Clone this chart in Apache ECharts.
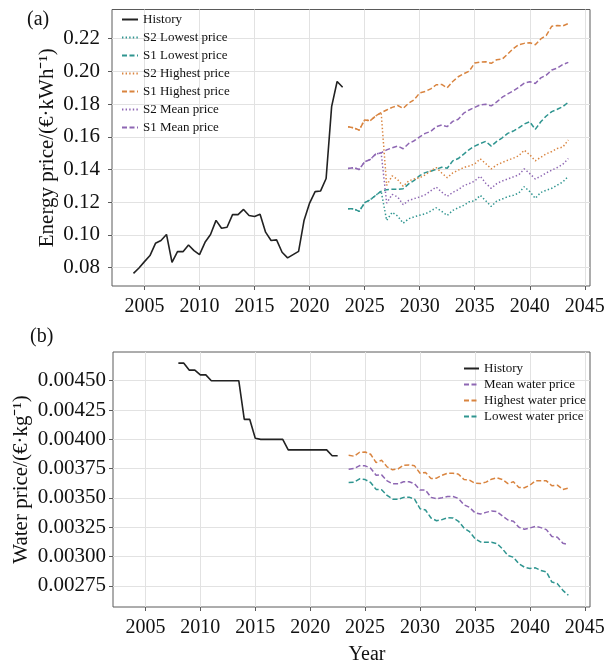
<!DOCTYPE html>
<html>
<head>
<meta charset="utf-8">
<script src="https://cdn.jsdelivr.net/npm/echarts@6/dist/echarts.min.js"></script>
<style>
  html, body { margin: 0; padding: 0; background: #fff; }
  #chart { width: 605px; height: 665px; }
</style>
</head>
<body>
<div id="chart"></div>
<script>
// ---- (a) energy price: history, half-yearly from 2004.0 ----
const energyHistStart = 2004.0;
const energyHistory = [
  0.0765, 0.0798, 0.0837, 0.0874, 0.0949, 0.0966, 0.1003, 0.0833, 0.0898, 0.0898,
  0.0939, 0.0904, 0.0880, 0.0955, 0.1003, 0.1089, 0.1041, 0.1047, 0.1124, 0.1124,
  0.1156, 0.1119, 0.1113, 0.1127, 0.1017, 0.0966, 0.0970, 0.0894, 0.0860, 0.0880,
  0.0900, 0.1090, 0.1195, 0.1265, 0.1269, 0.1345, 0.1784, 0.1938, 0.1903
];

// ---- (a) energy price scenarios, half-yearly from 2023.5 ----
const forecastStart = 2023.5;
const s2Lowest = [
  0.1160, 0.1160, 0.1144, 0.1197, 0.1215, 0.1242, 0.1267,
  0.1089, 0.1138, 0.1115, 0.1072, 0.1099, 0.1111, 0.1121, 0.1129, 0.1146, 0.1166,
  0.1144, 0.1119, 0.1150, 0.1166, 0.1181, 0.1203, 0.1209, 0.1242, 0.1209, 0.1174,
  0.1207, 0.1220, 0.1234, 0.1242, 0.1256, 0.1295, 0.1265, 0.1224, 0.1260, 0.1273,
  0.1285, 0.1305, 0.1324, 0.1359
];
const s1Lowest = [
  0.1160, 0.1160, 0.1144, 0.1197, 0.1215, 0.1242, 0.1267, 0.1277, 0.1279, 0.1279,
  0.1283, 0.1312, 0.1334, 0.1363, 0.1381, 0.1389, 0.1402, 0.1414, 0.1408, 0.1453,
  0.1467, 0.1494, 0.1522, 0.1543, 0.1559, 0.1572, 0.1543, 0.1572, 0.1594, 0.1621,
  0.1635, 0.1655, 0.1678, 0.1692, 0.1645, 0.1692, 0.1727, 0.1754, 0.1768, 0.1784,
  0.1811
];
const s2Highest = [
  0.1662, 0.1655, 0.1641, 0.1703, 0.1698, 0.1727, 0.1748,
  0.1303, 0.1361, 0.1338, 0.1297, 0.1330, 0.1342, 0.1350, 0.1367, 0.1391, 0.1412,
  0.1379, 0.1350, 0.1379, 0.1396, 0.1412, 0.1422, 0.1434, 0.1465, 0.1436, 0.1404,
  0.1428, 0.1443, 0.1457, 0.1469, 0.1484, 0.1518, 0.1490, 0.1453, 0.1475, 0.1496,
  0.1510, 0.1529, 0.1537, 0.1580
];
const s1Highest = [
  0.1662, 0.1655, 0.1641, 0.1703, 0.1698, 0.1727, 0.1748, 0.1764, 0.1780, 0.1791,
  0.1774, 0.1805, 0.1827, 0.1868, 0.1877, 0.1893, 0.1918, 0.1920, 0.1899, 0.1938,
  0.1967, 0.1985, 0.2001, 0.2051, 0.2057, 0.2059, 0.2049, 0.2071, 0.2075, 0.2106,
  0.2139, 0.2163, 0.2171, 0.2175, 0.2163, 0.2198, 0.2220, 0.2276, 0.2280, 0.2278,
  0.2292
];
const s2Mean = [
  0.1406, 0.1412, 0.1400, 0.1447, 0.1461, 0.1494, 0.1502,
  0.1195, 0.1248, 0.1232, 0.1185, 0.1211, 0.1222, 0.1232, 0.1246, 0.1269, 0.1293,
  0.1262, 0.1236, 0.1260, 0.1277, 0.1301, 0.1314, 0.1330, 0.1359, 0.1316, 0.1285,
  0.1314, 0.1330, 0.1342, 0.1355, 0.1367, 0.1404, 0.1375, 0.1342, 0.1359, 0.1379,
  0.1396, 0.1412, 0.1432, 0.1467
];
const s1Mean = [
  0.1406, 0.1412, 0.1400, 0.1447, 0.1461, 0.1494, 0.1502, 0.1520, 0.1533, 0.1543,
  0.1527, 0.1559, 0.1576, 0.1600, 0.1621, 0.1633, 0.1662, 0.1672, 0.1662, 0.1694,
  0.1707, 0.1744, 0.1764, 0.1780, 0.1795, 0.1799, 0.1789, 0.1813, 0.1842, 0.1862,
  0.1881, 0.1903, 0.1928, 0.1936, 0.1926, 0.1960, 0.1977, 0.2008, 0.2020, 0.2042,
  0.2055
];

// ---- (b) water price: history, half-yearly from 2008.0 ----
const waterHistStart = 2008.0;
const waterHistory = [
  0.00465, 0.00465, 0.00459, 0.00459, 0.00455, 0.00455, 0.00450, 0.00450, 0.00450, 0.00450,
  0.00450, 0.00450, 0.00417, 0.00417, 0.00401, 0.00400, 0.00400, 0.00400, 0.00400, 0.00400,
  0.00391, 0.00391, 0.00391, 0.00391, 0.00391, 0.00391, 0.00391, 0.00391, 0.00386, 0.00386
];
const waterMean = [
  0.003745, 0.003751, 0.003776, 0.003774, 0.003754, 0.003694, 0.003697, 0.003646, 0.003621, 0.003621,
  0.003638, 0.003638, 0.003621, 0.003567, 0.003567, 0.003505, 0.003493, 0.003502, 0.003513, 0.003513,
  0.003496, 0.003442, 0.003420, 0.003374, 0.003363, 0.003377, 0.003389, 0.003383, 0.003346, 0.003312,
  0.003301, 0.003250, 0.003233, 0.003244, 0.003258, 0.003247, 0.003230, 0.003171, 0.003165, 0.003114,
  0.003103
];
const waterHighest = [
  0.003864, 0.003856, 0.003890, 0.003892, 0.003873, 0.003802, 0.003822, 0.003765, 0.003740, 0.003748,
  0.003779, 0.003782, 0.003774, 0.003711, 0.003717, 0.003666, 0.003669, 0.003694, 0.003711, 0.003711,
  0.003703, 0.003657, 0.003652, 0.003626, 0.003623, 0.003635, 0.003660, 0.003672, 0.003657, 0.003623,
  0.003638, 0.003590, 0.003587, 0.003609, 0.003646, 0.003646, 0.003646, 0.003604, 0.003609, 0.003573,
  0.003584
];
const waterLowest = [
  0.003632, 0.003635, 0.003663, 0.003657, 0.003632, 0.003573, 0.003570, 0.003522, 0.003490, 0.003488,
  0.003505, 0.003507, 0.003490, 0.003408, 0.003397, 0.003329, 0.003306, 0.003315, 0.003332, 0.003329,
  0.003301, 0.003244, 0.003213, 0.003154, 0.003125, 0.003122, 0.003122, 0.003111, 0.003066, 0.003009,
  0.002995, 0.002938, 0.002910, 0.002899, 0.002904, 0.002882, 0.002870, 0.002783, 0.002769, 0.002712,
  0.002670
];

// ---- tick labels ----
const yearTicks = [2005, 2010, 2015, 2020, 2025, 2030, 2035, 2040, 2045];
const energyTicks = [0.08, 0.10, 0.12, 0.14, 0.16, 0.18, 0.20, 0.22];
const waterTicks = [0.00275, 0.00300, 0.00325, 0.00350, 0.00375, 0.00400, 0.00425, 0.00450];

// ---- styling ----
const FONT = '"Liberation Serif", "Times New Roman", serif';
const C_ORANGE = '#d9843f';
const C_PURPLE = '#8e67b3';
const C_TEAL = '#2f9590';
const C_BLACK = '#222222';
const GRID_LINE = '#e2e2e2';
const FRAME = '#5a5a5a';
const DASH = [5, 2.5];
const DOT = [1.4, 2.2];

// pair half-yearly values with their year positions
function halfYearly(start, values) {
  return values.map((v, i) => [start + i * 0.5, v]);
}

function line(name, start, values, color, type, axis) {
  return {
    name: name,
    type: 'line',
    xAxisIndex: axis,
    yAxisIndex: axis,
    data: halfYearly(start, values),
    symbol: 'none',
    smooth: false,
    lineStyle: { color: color, width: type === 'solid' ? 1.6 : 1.5, type: type },
    itemStyle: { color: color },
    emphasis: { disabled: true }
  };
}

function xAxisFor(grid, withName) {
  const ax = {
    gridIndex: grid,
    type: 'value',
    min: 2002.05,
    max: 2045.47,
    axisLine: { show: false },
    axisTick: { show: true, length: 4, customValues: yearTicks, lineStyle: { color: FRAME } },
    axisLabel: {
      customValues: yearTicks,
      fontFamily: FONT, fontSize: 20, color: '#111', margin: 11,
      formatter: v => String(Math.round(v))
    },
    splitLine: { show: true, lineStyle: { color: GRID_LINE, width: 1 } }
  };
  if (withName) {
    ax.name = 'Year';
    ax.nameLocation = 'middle';
    ax.nameGap = 38;
    ax.nameMoveOverlap = false;
    ax.nameTextStyle = { fontFamily: FONT, fontSize: 20, color: '#111', padding: [0, 0, 0, 31] };
  }
  return ax;
}

function yAxisFor(grid, min, max, ticks, digits, name, gap, labelMargin) {
  return {
    gridIndex: grid,
    type: 'value',
    min: min,
    max: max,
    axisLine: { show: false },
    axisTick: { show: true, length: 4, customValues: ticks, lineStyle: { color: FRAME } },
    axisLabel: {
      customValues: ticks,
      fontFamily: FONT, fontSize: 21, color: '#111', margin: labelMargin,
      formatter: v => v.toFixed(digits)
    },
    splitLine: { show: true, lineStyle: { color: GRID_LINE, width: 1 } },
    name: name,
    nameLocation: 'middle',
    nameGap: gap,
    nameMoveOverlap: false,
    nameTextStyle: { fontFamily: FONT, fontSize: 21, color: '#111' }
  };
}

const chart = echarts.init(document.getElementById('chart'), null, { renderer: 'canvas' });

const legendText = { fontFamily: FONT, fontSize: 13, color: '#111', lineHeight: 14 };

const option = {
  animation: false,
  backgroundColor: '#fff',
  grid: [
    { left: 112, top: 9.5, width: 478, height: 276.5, show: true, borderColor: FRAME, borderWidth: 1,
      backgroundColor: '#fff', containLabel: false, outerBoundsMode: 'none' },
    { left: 113, top: 352, width: 477, height: 255, show: true, borderColor: FRAME, borderWidth: 1,
      backgroundColor: '#fff', containLabel: false, outerBoundsMode: 'none' }
  ],
  xAxis: [xAxisFor(0, false), xAxisFor(1, true)],
  yAxis: [
    yAxisFor(0, 0.0688, 0.2378, energyTicks, 2, 'Energy price/(€·kWh⁻¹)', 54, 12),
    yAxisFor(1, 0.00257, 0.004745, waterTicks, 5, 'Water price/(€·kg⁻¹)', 81, 7)
  ],
  legend: [
    {
      orient: 'vertical', left: 121, top: 12.5, padding: 0,
      itemWidth: 16, itemHeight: 10, itemGap: 4,
      itemStyle: { opacity: 0 },
      textStyle: legendText,
      data: ['History', 'S2 Lowest price', 'S1 Lowest price', 'S2 Highest price',
             'S1 Highest price', 'S2 Mean price', 'S1 Mean price'],
      selectedMode: false
    },
    {
      orient: 'vertical', left: 463, top: 361.5, padding: 0,
      itemWidth: 15, itemHeight: 10, itemGap: 2,
      itemStyle: { opacity: 0 },
      textStyle: legendText,
      data: ['History ', 'Mean water price', 'Highest water price', 'Lowest water price'],
      selectedMode: false
    }
  ],
  graphic: [
    { type: 'text', left: 27, top: 10, style: { text: '(a)', font: '20px ' + FONT, fill: '#111' } },
    { type: 'text', left: 30, top: 327, style: { text: '(b)', font: '20px ' + FONT, fill: '#111' } }
  ],
  series: [
    line('History', energyHistStart, energyHistory, C_BLACK, 'solid', 0),
    line('S2 Lowest price', forecastStart, s2Lowest, C_TEAL, DOT, 0),
    line('S1 Lowest price', forecastStart, s1Lowest, C_TEAL, DASH, 0),
    line('S2 Highest price', forecastStart, s2Highest, C_ORANGE, DOT, 0),
    line('S1 Highest price', forecastStart, s1Highest, C_ORANGE, DASH, 0),
    line('S2 Mean price', forecastStart, s2Mean, C_PURPLE, DOT, 0),
    line('S1 Mean price', forecastStart, s1Mean, C_PURPLE, DASH, 0),

    line('History ', waterHistStart, waterHistory, C_BLACK, 'solid', 1),
    line('Mean water price', forecastStart, waterMean, C_PURPLE, DASH, 1),
    line('Highest water price', forecastStart, waterHighest, C_ORANGE, DASH, 1),
    line('Lowest water price', forecastStart, waterLowest, C_TEAL, DASH, 1)
  ]
};

chart.setOption(option);
</script>
</body>
</html>
